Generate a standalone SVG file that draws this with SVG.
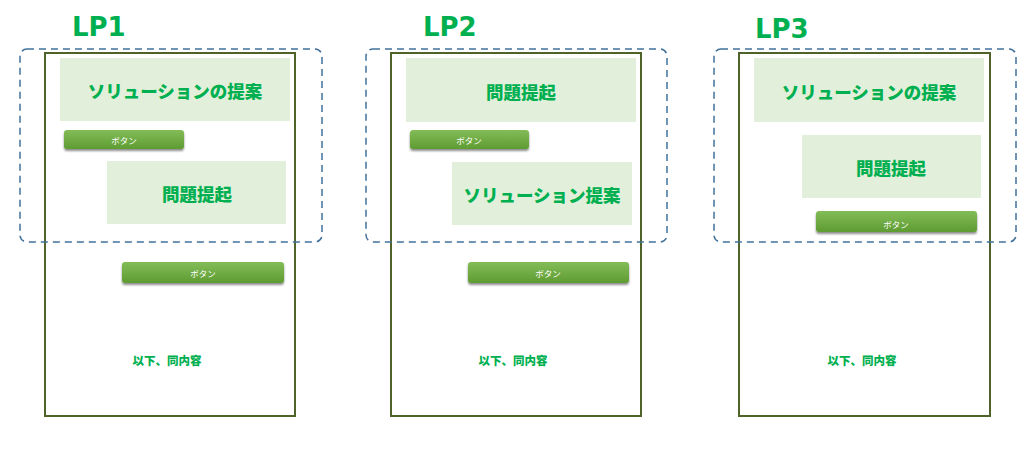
<svg xmlns="http://www.w3.org/2000/svg" width="1024" height="470" viewBox="0 0 1024 470">
<defs>
<linearGradient id="btnGrad" x1="0" y1="0" x2="0" y2="1">
<stop offset="0" stop-color="#83BC58"/>
<stop offset="1" stop-color="#5E9C31"/>
</linearGradient>
<filter id="shadow" x="-10%" y="-40%" width="120%" height="200%">
<feGaussianBlur in="SourceAlpha" stdDeviation="1.2"/>
<feOffset dx="0" dy="1.5" result="b"/>
<feComponentTransfer><feFuncA type="linear" slope="0.45"/></feComponentTransfer>
<feMerge><feMergeNode/><feMergeNode in="SourceGraphic"/></feMerge>
</filter>
</defs>
<style>
.title{font-family:"DejaVu Sans","Noto Sans",sans-serif;font-weight:bold;font-size:26px;fill:#00B050}
.page{fill:#FFFFFF;stroke:#4F6228;stroke-width:2}
.group{fill:none;stroke:#41719C;stroke-width:1.5;stroke-dasharray:7,5}
.block{fill:#E2EFDA}
.blk{font-family:"Noto Sans CJK JP",sans-serif;font-weight:900;font-size:17.5px;fill:#00B050;text-anchor:middle;dominant-baseline:central}
.btn{fill:url(#btnGrad);filter:url(#shadow)}
.btnt{font-family:"Noto Sans CJK JP",sans-serif;font-size:8.5px;fill:#FFFFFF;text-anchor:middle;dominant-baseline:central}
.rest{font-family:"Noto Sans CJK JP",sans-serif;font-weight:900;font-size:11.5px;fill:#00B050;text-anchor:middle;dominant-baseline:central}
</style>
<rect width="1024" height="470" fill="#FFFFFF"/>

<g id="lp1">
<text class="title" x="72" y="36">LP1</text>
<rect class="page" x="45" y="53" width="250" height="363"/>
<rect class="block" x="60" y="58" width="230" height="63"/>
<text class="blk" x="175" y="90">ソリューションの提案</text>
<rect class="btn" x="64" y="130" width="120" height="19" rx="3"/>
<text class="btnt" x="124" y="140">ボタン</text>
<rect class="block" x="107" y="161" width="179" height="63"/>
<text class="blk" x="197" y="193">問題提起</text>
<rect class="group" x="20" y="49" width="302" height="193" rx="7"/>
<rect class="btn" x="122" y="262" width="162" height="21" rx="3"/>
<text class="btnt" x="203" y="273">ボタン</text>
<text class="rest" x="167" y="360">以下、同内容</text>
</g>

<g id="lp2">
<text class="title" x="423" y="36">LP2</text>
<rect class="page" x="391" y="53" width="250" height="363"/>
<rect class="block" x="406" y="58" width="230" height="64"/>
<text class="blk" x="521" y="91">問題提起</text>
<rect class="btn" x="410" y="130" width="119" height="19" rx="3"/>
<text class="btnt" x="469" y="140">ボタン</text>
<rect class="block" x="452" y="162" width="180" height="63"/>
<text class="blk" x="542" y="194">ソリューション提案</text>
<rect class="group" x="366" y="49" width="301" height="193" rx="7"/>
<rect class="btn" x="468" y="262" width="161" height="21" rx="3"/>
<text class="btnt" x="548" y="273">ボタン</text>
<text class="rest" x="513" y="360">以下、同内容</text>
</g>

<g id="lp3">
<text class="title" x="755" y="38">LP3</text>
<rect class="page" x="739" y="53" width="251" height="363"/>
<rect class="block" x="754" y="58" width="230" height="64"/>
<text class="blk" x="869" y="91">ソリューションの提案</text>
<rect class="block" x="802" y="135" width="179" height="63"/>
<text class="blk" x="891" y="167">問題提起</text>
<rect class="btn" x="816" y="211" width="161" height="21" rx="3"/>
<text class="btnt" x="896" y="224">ボタン</text>
<rect class="group" x="714" y="49" width="302" height="193" rx="7"/>
<text class="rest" x="862" y="360">以下、同内容</text>
</g>

<g id="connectors"></g>
</svg>
